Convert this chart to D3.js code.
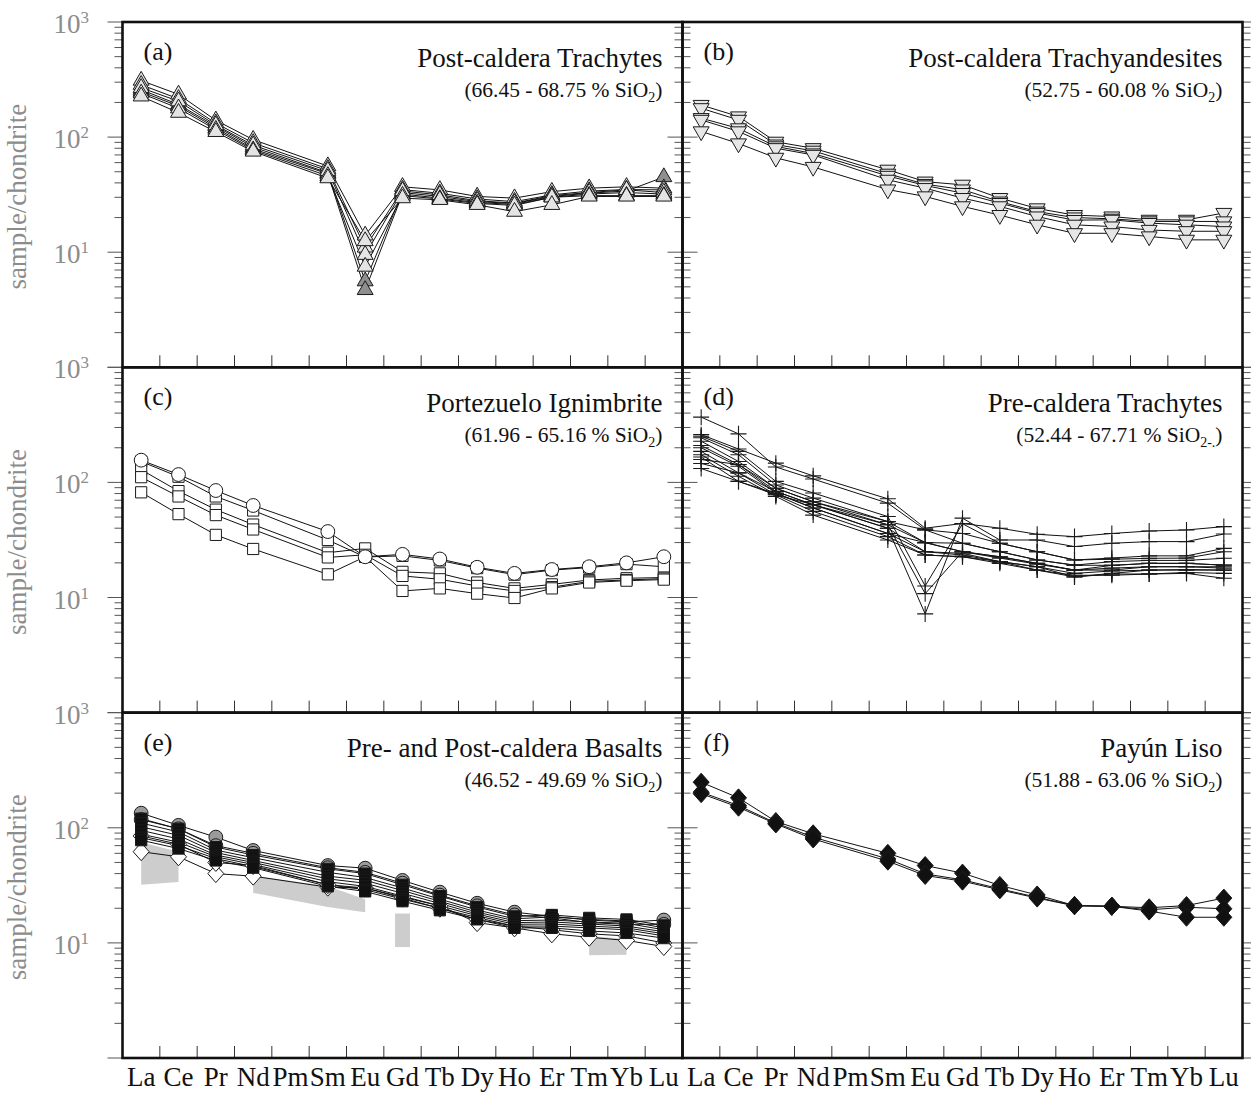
<!DOCTYPE html>
<html>
<head>
<meta charset="utf-8">
<script src="https://d3js.org/d3.v7.min.js"></script>
<style>
  body { margin: 0; background: #fff; }
  svg { display: block; }
</style>
</head>
<body>
<svg id="chart" width="1251" height="1094"></svg>
<script>
// rare earth elements, chondrite normalised (Pm has no data)
const ree = ['La', 'Ce', 'Pr', 'Nd', 'Pm', 'Sm', 'Eu', 'Gd', 'Tb', 'Dy', 'Ho', 'Er', 'Tm', 'Yb', 'Lu']
const yTickValues = [1000, 100, 10]

// (a) post-caldera trachytes
const trachyLight = [
  [310, 235, 140, 95, null, 56, 14, 37, 34.8, 30.5, 29.5, 33.6, 36, 37, 36],
  [285, 215, 132, 89, null, 53, 11, 35, 32.5, 29, 27.5, 31.5, 34, 35, 34.8],
  [268, 205, 127, 85, null, 51, 9.5, 34, 31.5, 28, 26.7, 31, 33, 34.8, 33],
  [240, 178, 116, 77, null, 46, 7.5, 31, 29, 26.5, 25.5, 30, 31, 31, 31],
  [226, 163, 111, 75, null, 44, 12.5, 29.5, 28.5, 25.8, 22.5, 25.8, 30.5, 30.5, 30.5]
]
const trachyDark = [
  [258, 192, 124, 82, null, 49, 5.6, 33, 30.5, 27.5, 26.5, 30.5, 32.6, 34, 45],
  [248, 186, 120, 79, null, 48, 4.7, 32, 29.5, 27, 26, 30, 32, 33, 32]
]

// (b) post-caldera trachyandesites
const trachyandesites = [
  [190, 151, 91, 80, null, 52, 41, 38.5, 29.5, 24, 21, 20.4, 19.1, 19.1, 21.9],
  [178, 141, 86, 76, null, 48, 39, 35, 27.5, 22.5, 20, 19.5, 18.5, 18.5, 18.5],
  [146, 119, 83, 72, null, 46, 38, 32.6, 26.7, 21.9, 19, 19.1, 17.9, 17.3, 16.7],
  [141, 112, 80, 70, null, 42.5, 36, 29.5, 25, 20.4, 17.3, 16.7, 15.6, 15.2, 15.2],
  [112, 88, 66, 55, null, 35, 30.5, 25, 21, 17.3, 14.6, 14.6, 13.7, 12.8, 12.8]
]

// (c) Portezuelo ignimbrite
const ignimbriteSquares = [
  [152, 112, 75.5, 57, null, 31.6, 22.5, 23, 21, 18, 15.8, 17.3, 18.2, 19.5, 18.5],
  [129, 84, 58, 43, null, 24.5, 26.7, 16.7, 16.2, 13.5, 12, 13, 14.2, 14.7, 14.9],
  [111, 75.5, 52, 39, null, 22.3, 23.5, 15.4, 14.4, 12.6, 11.4, 12.3, 13.8, 14.2, 14.6],
  [82, 53, 35, 26.4, null, 15.9, 22.6, 11.4, 12, 10.8, 9.9, 12, 13.5, 14, 14.3]
]
const ignimbriteCircles = [
  [156, 117, 85, 63, null, 37.4, 22.6, 23.7, 21.6, 18.3, 16.2, 17.5, 18.5, 20, 22.6]
]

// (d) pre-caldera trachytes
const preTrachytes = [
  [260, 195, 147, 114, null, 72, 40, 44, 40, 35.4, 33.8, 36, 37.8, 38.6, 41.3],
  [369, 264, 136, 107, null, 66, 38.7, 36, 29.6, 25, 21.2, 22, 23, 23, 26.7],
  [252, 186, 102, 81, null, 50.5, 12.6, 43.7, 29.6, 25, 21.2, 21.5, 21.9, 22, 25],
  [244, 174, 95, 73, null, 45.7, 30, 29.6, 25, 21.2, 19.1, 20.5, 21, 21, 21.9],
  [228, 152, 89, 68, null, 42.8, 10.8, 25, 22.6, 19.8, 17.3, 19, 19.8, 19.8, 19.1],
  [209, 143, 83.5, 64, null, 40, 7.2, 48.9, 31.6, 31.6, 27.7, 29.6, 30.6, 30.6, 35.6],
  [200, 138, 81, 60, null, 36, 25, 24.2, 20.5, 18.5, 16.2, 17, 17.3, 17.5, 17.3],
  [186, 121, 78, 56, null, 33.8, 23.4, 22.6, 19.8, 17.3, 15.1, 16, 16, 16.5, 16.2],
  [174, 113, 75.5, 52, null, 31.6, 23.4, 22.6, 20.5, 18.5, 15.1, 16.2, 17.3, 17.3, 17.3],
  [166, 102, 80, 60, null, 36, 30, 25, 22, 19.5, 17.3, 17.3, 18.5, 18.5, 18.5],
  [158, 143, 89, 68, null, 45.7, 38.7, 29.6, 25, 21.2, 19.1, 19, 19.8, 19.8, 19.1],
  [146, 121, 83.5, 64, null, 40, 25, 23.4, 20.5, 17.3, 15.6, 15.6, 16, 16.2, 14.7],
  [132, 102, 78, 64, null, 42.8, 30, 25, 22.6, 19.8, 17.3, 18, 18.5, 18.5, 18]
]

// (e) pre- and post-caldera basalts
const basaltCircles = [
  [134, 105, 83, 63.5, null, 47, 44.6, 34.9, 27.6, 22.1, 18.5, 17, 15.8, 15.2, 15.8],
  [118, 98, 70, 60, null, 45, 41, 33, 26, 21, 17.5, 16.5, 15, 14.5, 14.5]
]
const basaltSquares = [
  [120, 98, 68, 58, null, 44, 40, 32, 25.5, 20.5, 17, 17.5, 16.5, 16, 14.2],
  [110, 92, 64, 55, null, 41, 37, 30, 24, 19.3, 16.2, 16.8, 16, 15.5, 13.5],
  [102, 86, 61, 52, null, 38, 35, 28.5, 23, 18.5, 15.6, 15.8, 15.2, 14.8, 13],
  [95, 80, 58, 50, null, 36, 33, 27, 22, 17.8, 15, 15.2, 14.6, 14, 12.5],
  [88, 75, 56, 48, null, 34, 31, 25.5, 21, 17.2, 14.5, 14.6, 14, 13.5, 12],
  [82, 70, 54, 46, null, 32, 29, 24, 20, 16.6, 14, 14, 13.5, 13, 11.5],
  [78, 66, 52, 45, null, 31, 28, 23, 19.2, 16, 13.5, 13.5, 12.7, 12.2, 11]
]
const basaltDiamonds = [
  [62, 56, 40, 38, null, 30.5, 30, 24.5, 20, 16, 14, 13, 12, 11.5, 10],
  [85, 72, 50, 47, null, 32, 30, 25, 21, 15, 13.5, 12, 11.2, 10.5, 9.3]
]
// grey reference fields in (e)
const fieldElements = [['La', 'Ce'], ['Nd', 'Sm', 'Eu'], ['Gd'], ['Tm', 'Yb']]
const fieldLow = [[32, 33.8], [27.2, 20.5, 18.5], [9.2], [7.8, 7.9]]
const fieldHigh = [[75, 62], [38.5, 31, 24], [18], [11.5, 10.8]]

// (f) Payun Liso
const payunLiso = [
  [249, 182, 113.5, 88.7, null, 60, 47, 40.4, 31.6, 26.1, 21.1, 20.8, 20.2, 21.1, 24.5],
  [204, 156, 110, 83, null, 53.7, 39.8, 35.3, 29.5, 24.9, 21.1, 20.8, 19.4, 20.4, 19.8],
  [198, 151, 108, 80, null, 51.3, 38.5, 34.4, 28.9, 24.5, 21, 20.8, 18.9, 16.7, 16.7]
]

const panels = [
  {label: '(a)', title: 'Post-caldera Trachytes', range: '(66.45 - 68.75 % SiO', sub: '2', col: 0, row: 0,
   groups: [{data: trachyDark, marker: 'triUp', fill: '#8f8f8f'}, {data: trachyLight, marker: 'triUp', fill: '#e4e4e4'}]},
  {label: '(b)', title: 'Post-caldera Trachyandesites', range: '(52.75 - 60.08 % SiO', sub: '2', col: 1, row: 0,
   groups: [{data: trachyandesites, marker: 'triDown', fill: '#e6e6e6'}]},
  {label: '(c)', title: 'Portezuelo Ignimbrite', range: '(61.96 - 65.16 % SiO', sub: '2', col: 0, row: 1,
   groups: [{data: ignimbriteSquares, marker: 'square', fill: '#fff'}, {data: ignimbriteCircles, marker: 'circle', fill: '#fff'}]},
  {label: '(d)', title: 'Pre-caldera Trachytes', range: '(52.44 - 67.71 % SiO', sub: '2-.', col: 1, row: 1,
   groups: [{data: preTrachytes, marker: 'cross', fill: 'none'}]},
  {label: '(e)', title: 'Pre- and Post-caldera Basalts', range: '(46.52 - 49.69 % SiO', sub: '2', col: 0, row: 2, fields: true,
   groups: [{data: basaltDiamonds, marker: 'diamond', fill: '#fff'}, {data: basaltCircles, marker: 'circle', fill: '#9a9a9a'},
            {data: basaltSquares, marker: 'square', fill: '#111'}]},
  {label: '(f)', title: 'Payún Liso', range: '(51.88 - 63.06 % SiO', sub: '2', col: 1, row: 2,
   groups: [{data: payunLiso, marker: 'diamond', fill: '#111'}]}
]

let svg = d3.select('#chart')
const font = '"Liberation Serif", "Times New Roman", serif'
const panelW = 560, panelH = 345.3
const colX = [122.5, 682.5]
const rowY = [22, 367.3, 712.7]

let markerPath = (type) => {
  if (type === 'triUp' || type === 'triDown') return d3.symbol(d3.symbolTriangle, 110)()
  if (type === 'circle') return d3.symbol(d3.symbolCircle, 150)()
  if (type === 'square') return d3.symbol(d3.symbolSquare, 125)()
  if (type === 'diamond') return 'M0,-9L8,0L0,9L-8,0Z'
  return 'M-8,0H8M0,-8V8'
}

let drawPanel = (p) => {
  let x0 = colX[p.col], y0 = rowY[p.row]
  let x = d3.scaleLinear().domain([0.5, 15.5]).range([x0, x0 + panelW])
  let y = d3.scaleLog().domain([1, 1000]).range([y0 + panelH, y0])
  let g = svg.append('g')

  // grey fields
  if (p.fields) {
    fieldElements.forEach((els, k) => {
      let idx = els.map((e) => ree.indexOf(e) + 1)
      let pts
      if (idx.length === 1) {
        let i = idx[0]
        pts = [[x(i - 0.2), y(fieldHigh[k][0])], [x(i + 0.2), y(fieldHigh[k][0])],
               [x(i + 0.2), y(fieldLow[k][0])], [x(i - 0.2), y(fieldLow[k][0])]]
      } else {
        let top = idx.map((i, j) => [x(i), y(fieldHigh[k][j])])
        let bottom = idx.map((i, j) => [x(i), y(fieldLow[k][j])]).reverse()
        pts = top.concat(bottom)
      }
      g.append('polygon')
        .attr('points', pts.map((d) => d.join(',')).join(' '))
        .attr('fill', '#cdcdcd')
    })
  }

  let line = d3.line().x((d) => x(d.i)).y((d) => y(d.v))
  let toPoints = (s) => s.map((v, i) => ({i: i + 1, v: v})).filter((d) => d.v != null)

  p.groups.forEach((grp) => {
    grp.data.forEach((s) => {
      g.append('path')
        .attr('d', line(toPoints(s)))
        .attr('fill', 'none')
        .attr('stroke', '#111')
        .attr('stroke-width', 1)
    })
  })

  p.groups.forEach((grp) => {
    let path = markerPath(grp.marker)
    grp.data.forEach((s) => {
      g.selectAll(null)
        .data(toPoints(s))
        .enter()
        .append('path')
        .attr('d', path)
        .attr('transform', (d) => 'translate(' + x(d.i) + ',' + y(d.v) + ')' + (grp.marker === 'triDown' ? ' rotate(180)' : ''))
        .attr('fill', grp.fill)
        .attr('stroke', '#1a1a1a')
        .attr('stroke-width', grp.marker === 'cross' ? 1.1 : 1)
    })
  })

  // y ticks on both sides
  let major = [1, 10, 100, 1000]
  let minor = []
  ;[1, 10, 100].forEach((dec) => { for (let m = 2; m <= 9; m++) minor.push(m * dec) })
  let tickList = major.map((v) => ({v: v, len: 15})).concat(minor.map((v) => ({v: v, len: 8})))
  let xl = x0, xr = x0 + panelW
  tickList.forEach((t) => {
    let ty = y(t.v)
    let leftA = p.col === 0 ? xl - t.len : xl
    let leftB = p.col === 0 ? xl : xl + t.len
    let rightA = p.col === 0 ? xr - t.len : xr
    let rightB = p.col === 0 ? xr : xr + t.len
    g.append('line').attr('x1', leftA).attr('x2', leftB).attr('y1', ty).attr('y2', ty)
      .attr('stroke', '#555').attr('stroke-width', 1)
    g.append('line').attr('x1', rightA).attr('x2', rightB).attr('y1', ty).attr('y2', ty)
      .attr('stroke', '#555').attr('stroke-width', 1)
  })

  // x ticks between elements
  for (let k = 1; k < 15; k++) {
    g.append('line')
      .attr('x1', x(k + 0.5)).attr('x2', x(k + 0.5))
      .attr('y1', y0 + panelH - 12).attr('y2', y0 + panelH)
      .attr('stroke', '#333').attr('stroke-width', 1)
  }

  // frame
  g.append('rect')
    .attr('x', x0).attr('y', y0).attr('width', panelW).attr('height', panelH)
    .attr('fill', 'none').attr('stroke', '#111').attr('stroke-width', 2.6)

  // texts
  g.append('text').text(p.label)
    .attr('x', x0 + 21).attr('y', y0 + 38)
    .style('font-family', font).style('font-size', '26px').attr('fill', '#111')
  g.append('text').text(p.title)
    .attr('x', x0 + 540).attr('y', y0 + 44.7)
    .attr('text-anchor', 'end')
    .style('font-family', font).style('font-size', '27px').attr('fill', '#111')
  let rt = g.append('text')
    .attr('x', x0 + 540).attr('y', y0 + 74.7)
    .attr('text-anchor', 'end')
    .style('font-family', font).style('font-size', '21.5px').attr('fill', '#111')
  rt.append('tspan').text(p.range)
  rt.append('tspan').text(p.sub).attr('dy', 5).style('font-size', '14px')
  rt.append('tspan').text(')').attr('dy', -5)

  // y labels on the left column
  if (p.col === 0) {
    yTickValues.forEach((v) => {
      let t = g.append('text')
        .attr('x', 89).attr('y', y(v) + 11)
        .attr('text-anchor', 'end')
        .style('font-family', font).style('font-size', '27px').attr('fill', '#8c8c8c')
      t.append('tspan').text('10')
      t.append('tspan').text(String(Math.round(Math.log10(v)))).attr('dy', -10).style('font-size', '17px')
    })
    g.append('text').text('sample/chondrite')
      .attr('transform', 'translate(26,' + (y0 + panelH / 2 + 2) + ') rotate(-90)')
      .attr('text-anchor', 'middle')
      .style('font-family', font).style('font-size', '27px').attr('fill', '#8c8c8c')
  }

  // element names under the bottom row
  if (p.row === 2) {
    g.selectAll(null)
      .data(ree)
      .enter()
      .append('text')
      .text((d) => d)
      .attr('x', (d, i) => x(i + 1))
      .attr('y', 1086)
      .attr('text-anchor', 'middle')
      .style('font-family', font).style('font-size', '27px').attr('fill', '#111')
  }
}

panels.forEach((p) => drawPanel(p))
</script>
</body>
</html>
